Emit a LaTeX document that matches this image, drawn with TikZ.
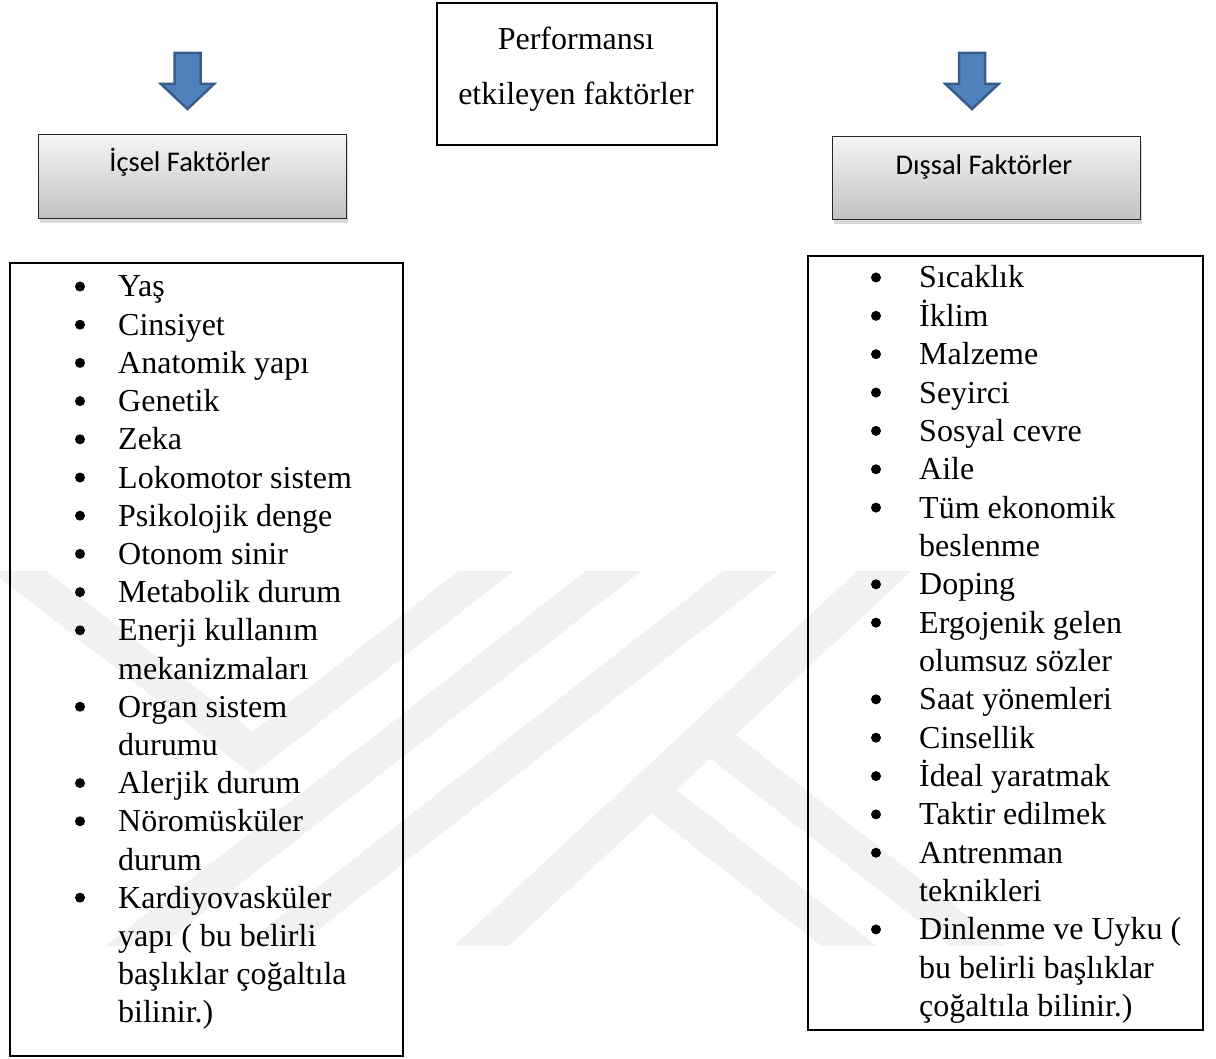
\documentclass[tikz,border=0pt]{standalone}
\usepackage{fontspec}
\setmainfont{Liberation Serif}
\newfontfamily\calib{Carlito}
\usetikzlibrary{shadows}
\definecolor{wm}{RGB}{241,241,241}
\definecolor{arrfill}{RGB}{79,129,189}
\definecolor{arrdraw}{RGB}{56,93,138}
\begin{document}
\begin{tikzpicture}[x=1pt,y=-1pt,
  txt/.style={inner sep=0pt, font=\fontsize{32}{38}\selectfont},
  item/.style={txt, anchor=base west},
  bul/.style={circle, fill=black, inner sep=0pt, minimum size=10pt},
  listbox/.style={draw=black, line width=1.6pt},
  headbox/.style={draw=black!85, line width=1.3pt, top color=black!4, bottom color=black!24,
    drop shadow={shadow xshift=1.5pt, shadow yshift=-4pt, opacity=0.3}, anchor=north west},
  headtxt/.style={inner sep=0pt, anchor=base, font=\calib\fontsize{28.5}{34}\selectfont},
  blockarrow/.style={fill=arrfill, draw=arrdraw, line width=2.5pt},
  band/.style={wm, line width=34pt}]
\useasboundingbox (0,0) rectangle (1216,1059);
% watermark
\begin{scope}
\clip (0,571) rectangle (1216,945);
\draw[band] (-111,470) -- (252.5,753) -- (616,470);
\draw[band] (743,470) -- (6,1045);
\draw[band] (880,470) -- (143,1045);
\draw[band, line width=37pt] (993,470) -- (375,1045);
\draw[band] (649,790) -- (976,1045);
\draw[band] (708,735) -- (1105,1045);
\end{scope}
% centre box
\node[draw=black, line width=2pt, minimum width=280pt, minimum height=142pt, anchor=north west] (center) at (436,2) {};
\node[txt, anchor=base] (ct1) at (576,50) {Performansı};
\node[txt, anchor=base] (ct2) at (576,105) {etkileyen faktörler};
% arrows
\draw[blockarrow] (174.5,53) -- (200.5,53) -- (200.5,84) -- (214,84) -- (187.5,109) -- (161,84) -- (174.5,84) -- cycle;
\begin{scope}[xshift=784.5pt]
\draw[blockarrow] (174.5,53) -- (200.5,53) -- (200.5,84) -- (214,84) -- (187.5,109) -- (161,84) -- (174.5,84) -- cycle;
\end{scope}
% header boxes
\node[headbox, minimum width=308pt, minimum height=84pt] (lbox) at (38,134) {};
\node[headtxt] (lhead) at (190,172) {İçsel Faktörler};
\node[headbox, minimum width=308pt, minimum height=83pt] (rbox) at (832,136) {};
\node[headtxt] (rhead) at (984,175) {Dışsal Faktörler};
% list boxes
\draw[listbox] (10,263) rectangle (403,1056);
\draw[listbox] (808,256) rectangle (1203,1030);
% left list
\foreach \t/\b [count=\i from 0] in {Yaş/1,Cinsiyet/1,Anatomik yapı/1,Genetik/1,Zeka/1,Lokomotor sistem/1,Psikolojik denge/1,Otonom sinir/1,Metabolik durum/1,Enerji kullanım/1,mekanizmaları/0,Organ sistem/1,durumu/0,Alerjik durum/1,Nöromüsküler/1,durum/0,Kardiyovasküler/1,yapı ( bu belirli/0,başlıklar çoğaltıla/0,bilinir.)/0}{
  \pgfmathsetmacro\yy{297+38.2*\i}
  \node[item] (l\i) at (118,\yy) {\t};
  \ifnum\b=1 \node[bul] (lb\i) at (80,\yy-10.5) {};\fi
}
% right list
\foreach \t/\b [count=\i from 0] in {Sıcaklık/1,İklim/1,Malzeme/1,Seyirci/1,Sosyal cevre/1,Aile/1,Tüm ekonomik/1,beslenme/0,Doping/1,Ergojenik gelen/1,olumsuz sözler/0,Saat yönemleri/1,Cinsellik/1,İdeal yaratmak/1,Taktir edilmek/1,Antrenman/1,teknikleri/0,Dinlenme ve Uyku (/1,bu belirli başlıklar/0,çoğaltıla bilinir.)/0}{
  \pgfmathsetmacro\yy{288+38.35*\i}
  \node[item] (r\i) at (919,\yy) {\t};
  \ifnum\b=1 \node[bul] (rb\i) at (876,\yy-10.5) {};\fi
}
\end{tikzpicture}
\end{document}
